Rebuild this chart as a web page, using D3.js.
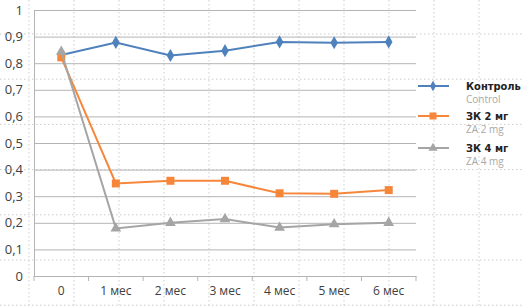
<!DOCTYPE html>
<html>
<head>
<meta charset="utf-8">
<script src="https://cdn.jsdelivr.net/npm/d3@7"></script>
<style>
  body { margin: 0; background: #fff; }
  svg { display: block; }
</style>
</head>
<body>
<svg id="chart"></svg>
<script>
const categories = ['0', '1 мес', '2 мес', '3 мес', '4 мес', '5 мес', '6 мес']
const controlValues = [0.831, 0.878, 0.829, 0.847, 0.880, 0.877, 0.880]
const za2Values = [0.822, 0.348, 0.358, 0.358, 0.311, 0.309, 0.323]
const za4Values = [0.843, 0.179, 0.200, 0.214, 0.182, 0.195, 0.200]
const yTicks = [0, 0.1, 0.2, 0.3, 0.4, 0.5, 0.6, 0.7, 0.8, 0.9, 1]
const legendTitles = ['Контроль', 'ЗК 2 мг', 'ЗК 4 мг']
const legendSubtitles = ['Control', 'ZA 2 mg', 'ZA 4 mg']

const width = 524
const height = 308
const margin = { top: 10, bottom: 32, left: 34, right: 108 }
const bodyWidth = width - margin.left - margin.right
const bodyHeight = height - margin.top - margin.bottom

const svg = d3.select('#chart').attr('width', width).attr('height', height)

const xScale = d3.scaleBand().domain(categories).range([margin.left, margin.left + bodyWidth])
const yScale = d3.scaleLinear().domain([0, 1]).range([margin.top + bodyHeight, margin.top])

const series = [
  { values: controlValues, color: '#4f81bd', symbol: d3.symbolDiamond, size: 50, legendSize: 32 },
  { values: za2Values, color: '#f6873a', symbol: d3.symbolSquare, size: 64, legendSize: 49 },
  { values: za4Values, color: '#a5a5a5', symbol: d3.symbolTriangle, size: 50, legendSize: 36 },
]

// dotted background lattice
const dotted = svg.append('g').attr('stroke', '#cdcdcd').attr('stroke-dasharray', '1.5,2.5')
dotted.selectAll('line.v').data(d3.range(29, width, 45)).enter().append('line')
  .attr('x1', (d) => d).attr('x2', (d) => d).attr('y1', 0).attr('y2', height)
dotted.selectAll('line.h').data(d3.range(34, height, 45.2)).enter().append('line')
  .attr('x1', 0).attr('x2', width).attr('y1', (d) => d).attr('y2', (d) => d)

// horizontal gridlines
svg.append('g')
  .attr('transform', `translate(${margin.left},0)`)
  .call(d3.axisLeft(yScale).tickValues(yTicks).tickSize(-bodyWidth).tickFormat(''))
  .call((g) => g.select('.domain').remove())
  .call((g) => g.selectAll('line').attr('stroke', '#b4b4b4'))

// y axis
svg.append('g')
  .attr('transform', `translate(${margin.left},0)`)
  .call(d3.axisLeft(yScale).tickValues(yTicks).tickSize(0).tickPadding(11)
    .tickFormat((d) => d3.format('.1~f')(d).replace('.', ',')))
  .call((g) => g.select('.domain').attr('stroke', '#b4b4b4'))
  .call((g) => g.selectAll('text').style('font', '13px "Open Sans"').attr('fill', '#404040'))

// x axis
const xAxis = svg.append('g')
  .attr('transform', `translate(0,${margin.top + bodyHeight})`)
  .call(d3.axisBottom(xScale).tickSize(0).tickPadding(10))
xAxis.select('.domain').attr('stroke', '#b4b4b4')
xAxis.selectAll('text').style('font', '12px "Open Sans"').attr('fill', '#404040')
xAxis.selectAll('line.sep').data(d3.range(categories.length + 1)).enter().append('line')
  .attr('class', 'sep')
  .attr('x1', (i) => margin.left + i * xScale.step())
  .attr('x2', (i) => margin.left + i * xScale.step())
  .attr('y1', 0).attr('y2', 5)
  .attr('stroke', '#b4b4b4')

// series
const line = d3.line()
  .x((d, i) => xScale(categories[i]) + xScale.bandwidth() / 2)
  .y((d) => yScale(d))

series.forEach((s) => {
  svg.append('path')
    .datum(s.values)
    .attr('d', line)
    .attr('fill', 'none')
    .attr('stroke', s.color)
    .attr('stroke-width', 2)
  svg.append('g').selectAll('path').data(s.values).enter().append('path')
    .attr('d', d3.symbol().type(s.symbol).size(s.size))
    .attr('transform', (d, i) => `translate(${xScale(categories[i]) + xScale.bandwidth() / 2},${yScale(d)})`)
    .attr('fill', s.color)
})

// legend
const legendY = [86, 116, 148]
const legend = svg.append('g')
series.forEach((s, i) => {
  const y = legendY[i]
  legend.append('line')
    .attr('x1', 418).attr('x2', 449).attr('y1', y).attr('y2', y)
    .attr('stroke', s.color).attr('stroke-width', 2)
  legend.append('path')
    .attr('d', d3.symbol().type(s.symbol).size(s.legendSize))
    .attr('transform', `translate(433,${y})`)
    .attr('fill', s.color)
  legend.append('text')
    .attr('x', 466).attr('y', y + 4)
    .style('font', 'bold 11px "DejaVu Sans Condensed"')
    .attr('fill', '#222')
    .text(legendTitles[i])
  legend.append('text')
    .attr('x', 466).attr('y', y + 17)
    .style('font', '10px "Open Sans"')
    .attr('fill', '#a8a8a8')
    .text(legendSubtitles[i])
})
</script>
</body>
</html>
